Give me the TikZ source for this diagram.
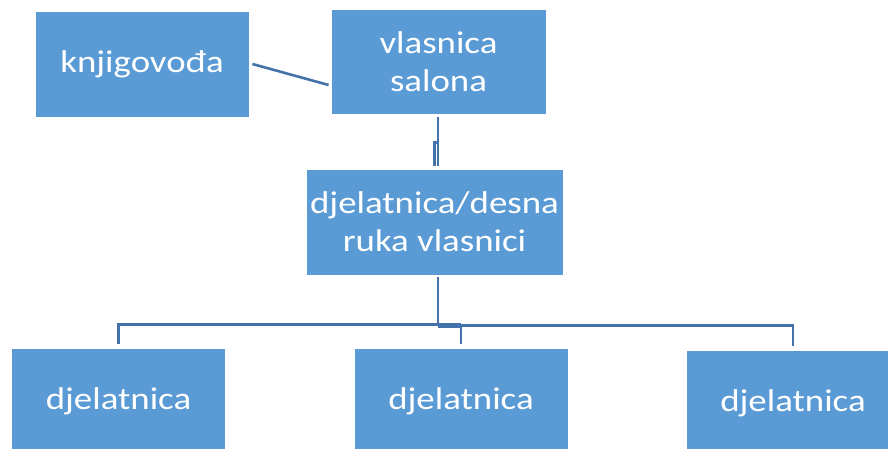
\documentclass[tikz,border=0pt]{standalone}
\usepackage{fontspec}
\setmainfont[FakeStretch=1.17]{Carlito}
\usepackage{tikz}
\usetikzlibrary{calc,positioning}
\definecolor{BoxBlue}{RGB}{91,155,213}
\definecolor{LinkBlue}{RGB}{68,114,170}
\tikzset{
  box/.style={rectangle, fill=BoxBlue, draw=white, line width=0.8pt, text=white,
    minimum width=214pt, minimum height=106pt, inner sep=0pt, align=center,
    font=\fontsize{31.5}{38}\selectfont},
  link/.style={draw=LinkBlue, line width=2.6pt}
}

\begin{document}
\begin{tikzpicture}[x=1pt,y=-1pt]
        \useasboundingbox (0,0) rectangle (888,449);
        %Kutije
        \node[box] (knj) at (142,64) {knjigovođa};
        \node[box, minimum width=215pt, minimum height=105pt] (vl) at (438.5,61.5) {vlasnica\\salona};
        \node[box, minimum width=257pt] (desna) at (434.5,222) {djelatnica/desna\\ruka vlasnici};
        \node[box] (d1) at (118.5,401) {djelatnica};
        \node[box] (d2) at (461,401) {djelatnica};
        \node[box] (d3) at (793,403) {djelatnica};
        %Veze
        \draw[link] ([xshift=3pt]knj.east) -- ([xshift=-2pt,yshift=-23.5pt]vl.west);
        \draw[link] ([xshift=-0.5pt,yshift=-3pt]vl.south) -- ([xshift=3.5pt,yshift=3pt]desna.north);
        \draw[link] ([yshift=3pt]desna.north) |- ++(3.5,-23);
        \draw[link] ([xshift=3.5pt,yshift=-2pt]desna.south) -- ++(0,48) coordinate (bus);
        \draw[link] ([yshift=1pt]bus) -| ([yshift=4pt]d1.north);
        \draw[link] (bus) -| ([yshift=4pt]d2.north);
        \draw[link] (bus) -| ([yshift=4pt]d3.north);
        \draw[link, line width=4.5pt] (bus) -- (bus -| d2.north);
\end{tikzpicture}
\end{document}
